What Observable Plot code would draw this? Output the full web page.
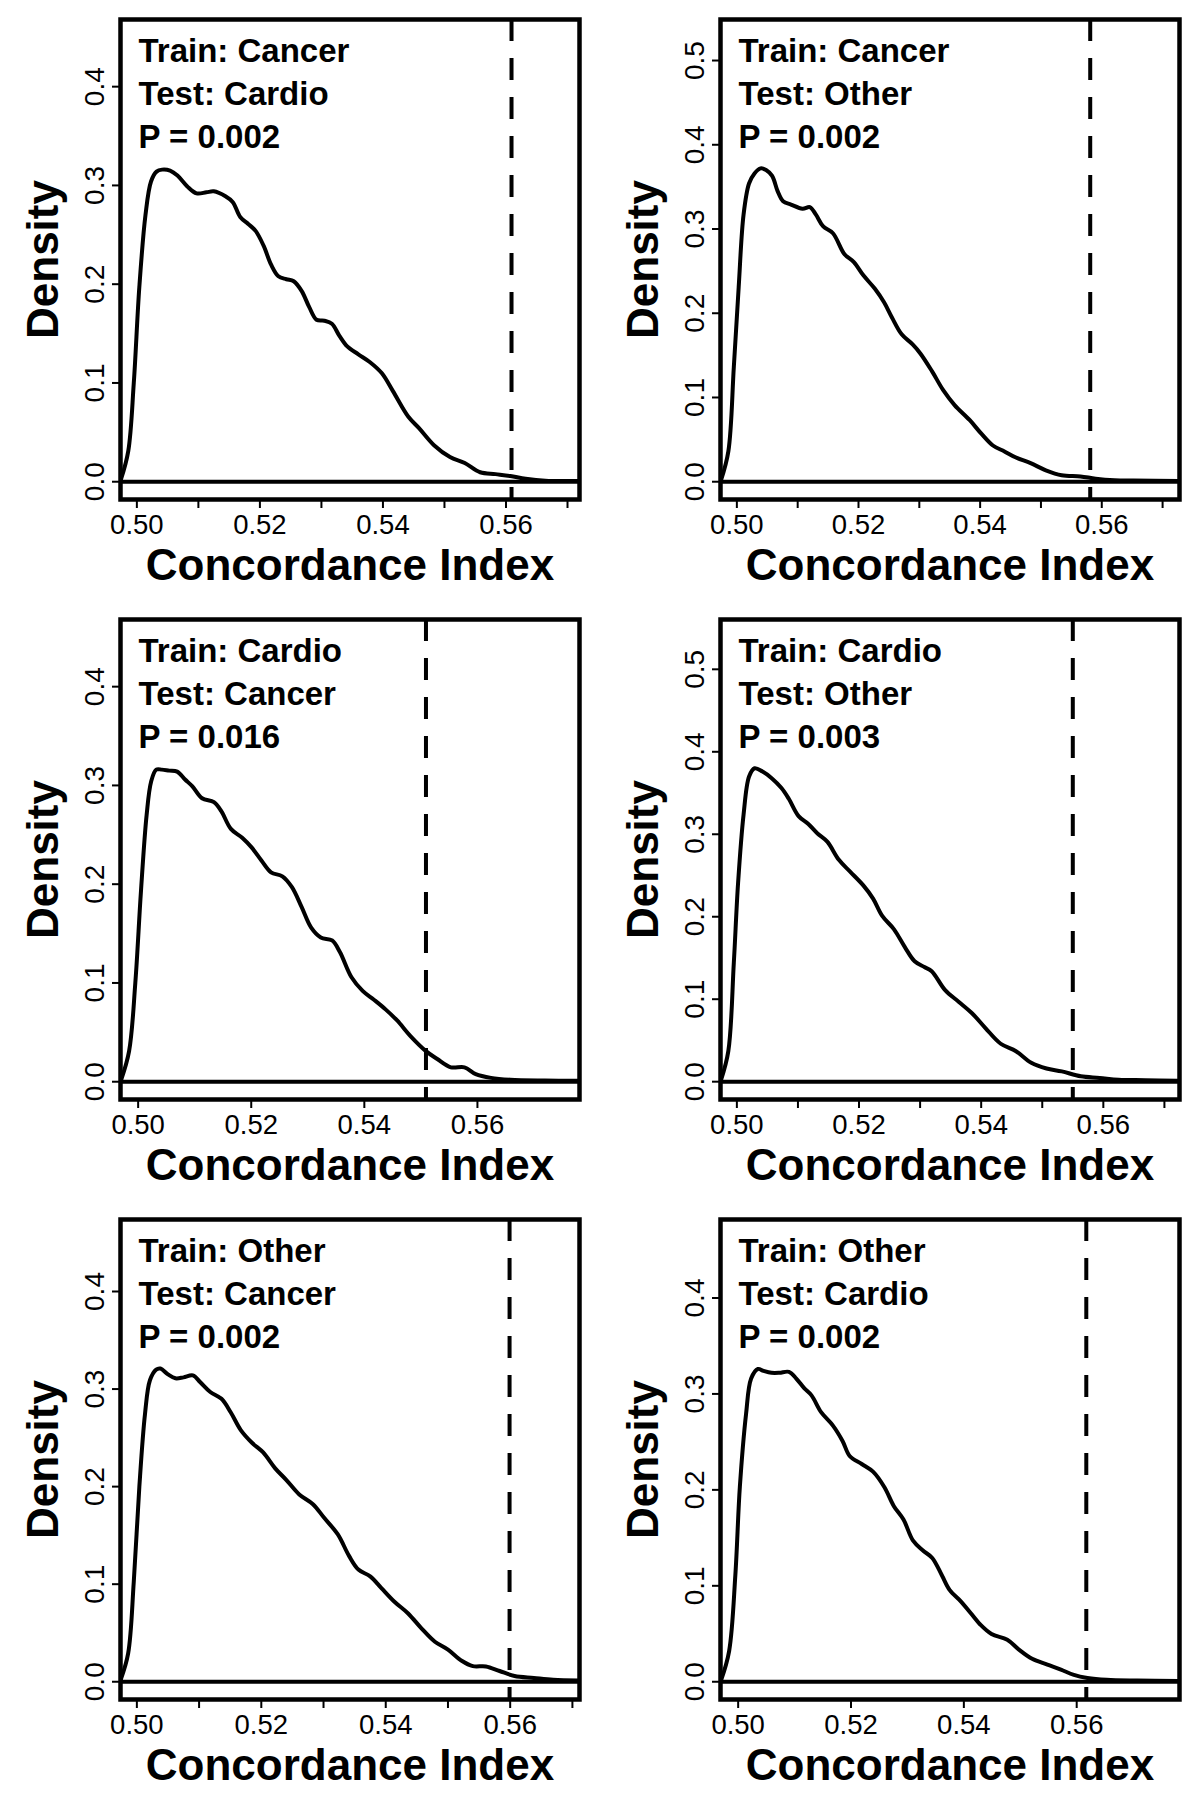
<!DOCTYPE html>
<html>
<head>
<meta charset="utf-8">
<script src="https://cdn.jsdelivr.net/npm/d3@7"></script>
<script src="https://cdn.jsdelivr.net/npm/@observablehq/plot@0.6"></script>
<style>
  html, body { margin: 0; padding: 0; background: #fff; }
  #grid { display: grid; grid-template-columns: 600px 600px; width: 1200px; }
  #grid svg { display: block; }
</style>
</head>
<body>
<div id="grid"></div>
<script>
// ---- data ----
const trainSets = ["Cancer", "Cancer", "Cardio", "Cardio", "Other", "Other"];
const testSets  = ["Cardio", "Other", "Cancer", "Other", "Cancer", "Cardio"];
const pValues   = ["0.002", "0.002", "0.016", "0.003", "0.002", "0.002"];
const observedCI = [0.5609, 0.5581, 0.5509, 0.5550, 0.5599, 0.5617];

const ci1 = [0.4974,0.4986,0.4995,0.5004,0.5014,0.5023,0.5032,0.5041,0.5054,0.5066,0.5082,0.5097,0.5113,0.5125,0.5144,0.5156,0.5168,0.5181,0.5193,0.5206,0.5218,0.5230,0.5243,0.5255,0.5268,0.5280,0.5292,0.5305,0.5317,0.5329,0.5342,0.5360,0.5379,0.5398,0.5416,0.5441,0.5459,0.5483,0.5509,0.5533,0.5558,0.5583,0.5607,0.5632,0.5664,0.5719];
const dens1 = [0.002,0.031,0.100,0.197,0.270,0.304,0.314,0.316,0.315,0.310,0.299,0.292,0.293,0.294,0.289,0.283,0.268,0.261,0.254,0.239,0.220,0.208,0.205,0.203,0.193,0.177,0.164,0.163,0.160,0.148,0.137,0.129,0.121,0.110,0.092,0.066,0.054,0.037,0.025,0.019,0.0096,0.0077,0.0058,0.003,0.001,0.0008];

const ci2 = [0.4974,0.4986,0.4995,0.5003,0.5011,0.5020,0.5029,0.5039,0.5048,0.5058,0.5067,0.5076,0.5089,0.5108,0.5120,0.5130,0.5142,0.5158,0.5177,0.5192,0.5208,0.5227,0.5242,0.5255,0.5271,0.5289,0.5302,0.5321,0.5339,0.5358,0.5383,0.5402,0.5421,0.5440,0.5458,0.5483,0.5508,0.5534,0.5565,0.5590,0.5621,0.5652,0.5727];
const dens2 = [0.002,0.036,0.136,0.231,0.317,0.354,0.366,0.372,0.370,0.363,0.345,0.333,0.329,0.324,0.326,0.317,0.303,0.295,0.270,0.261,0.245,0.229,0.213,0.195,0.175,0.163,0.152,0.131,0.109,0.091,0.073,0.057,0.043,0.036,0.029,0.022,0.0136,0.0077,0.0063,0.0036,0.0018,0.0014,0.001];

const ci3 = [0.4970,0.4984,0.4995,0.5005,0.5015,0.5023,0.5032,0.5042,0.5055,0.5069,0.5083,0.5096,0.5113,0.5134,0.5147,0.5164,0.5184,0.5201,0.5218,0.5235,0.5255,0.5272,0.5289,0.5306,0.5323,0.5343,0.5357,0.5377,0.5397,0.5417,0.5438,0.5458,0.5482,0.5509,0.5529,0.5553,0.5577,0.5597,0.5624,0.5658,0.5719,0.5780];
const dens3 = [0.002,0.031,0.100,0.193,0.270,0.304,0.316,0.316,0.315,0.314,0.306,0.299,0.287,0.283,0.274,0.256,0.247,0.237,0.224,0.212,0.208,0.197,0.177,0.156,0.146,0.143,0.131,0.106,0.092,0.083,0.073,0.062,0.046,0.031,0.023,0.0146,0.0146,0.0077,0.0039,0.002,0.0012,0.001];

const ci4 = [0.4974,0.4986,0.4995,0.5002,0.5011,0.5020,0.5029,0.5042,0.5057,0.5073,0.5085,0.5101,0.5117,0.5132,0.5148,0.5167,0.5185,0.5207,0.5223,0.5238,0.5257,0.5276,0.5291,0.5307,0.5319,0.5341,0.5363,0.5385,0.5407,0.5432,0.5457,0.5482,0.5507,0.5532,0.5563,0.5594,0.5625,0.5669,0.5722];
const dens4 = [0.002,0.037,0.144,0.241,0.324,0.370,0.380,0.376,0.368,0.356,0.343,0.322,0.3125,0.301,0.291,0.269,0.255,0.238,0.222,0.201,0.185,0.162,0.146,0.139,0.134,0.111,0.097,0.083,0.065,0.046,0.037,0.023,0.016,0.0125,0.0065,0.0046,0.0023,0.0018,0.001];

const ci5 = [0.4974,0.4986,0.4995,0.5004,0.5013,0.5021,0.5031,0.5038,0.5050,0.5062,0.5075,0.5090,0.5102,0.5118,0.5136,0.5151,0.5167,0.5185,0.5203,0.5222,0.5240,0.5261,0.5283,0.5301,0.5323,0.5341,0.5356,0.5375,0.5393,0.5414,0.5436,0.5457,0.5479,0.5500,0.5522,0.5540,0.5561,0.5583,0.5607,0.5638,0.5669,0.5710];
const dens5 = [0.002,0.029,0.102,0.200,0.274,0.309,0.320,0.321,0.315,0.311,0.312,0.314,0.307,0.297,0.290,0.276,0.258,0.245,0.235,0.219,0.207,0.192,0.182,0.168,0.151,0.129,0.115,0.108,0.096,0.082,0.070,0.055,0.041,0.033,0.0215,0.016,0.0157,0.011,0.0059,0.0039,0.002,0.0012];

const ci6 = [0.4970,0.4984,0.4995,0.5003,0.5014,0.5023,0.5035,0.5045,0.5059,0.5073,0.5090,0.5103,0.5117,0.5130,0.5147,0.5168,0.5185,0.5198,0.5219,0.5239,0.5259,0.5276,0.5293,0.5310,0.5327,0.5344,0.5361,0.5375,0.5395,0.5412,0.5429,0.5449,0.5477,0.5497,0.5521,0.5548,0.5572,0.5595,0.5619,0.5653,0.5707,0.5780];
const dens6 = [0.002,0.032,0.111,0.203,0.279,0.316,0.326,0.324,0.322,0.322,0.323,0.316,0.306,0.2985,0.281,0.267,0.251,0.235,0.227,0.219,0.203,0.183,0.169,0.147,0.137,0.129,0.111,0.0955,0.0836,0.0716,0.0597,0.0498,0.0438,0.0338,0.0239,0.0179,0.0127,0.0072,0.004,0.002,0.0012,0.0008];

const xTicksFine   = [0.50, 0.51, 0.52, 0.53, 0.54, 0.55, 0.56, 0.57];
const xTicksCoarse = [0.50, 0.52, 0.54, 0.56];
const yTicksLow    = [0.0, 0.1, 0.2, 0.3, 0.4];
const yTicksHigh   = [0.0, 0.1, 0.2, 0.3, 0.4, 0.5];
const xAxisTitle = "Concordance Index";
const yAxisTitle = "Density";

// ---- panel configuration ----
const panels = [
  {x: ci1, y: dens1, xDomain: [0.49734, 0.57195], yDomain: [-0.018, 0.468], xTicks: xTicksFine,   yTicks: yTicksLow},
  {x: ci2, y: dens2, xDomain: [0.49731, 0.57278], yDomain: [-0.0211, 0.5487], xTicks: xTicksFine, yTicks: yTicksHigh},
  {x: ci3, y: dens3, xDomain: [0.49688, 0.57805], yDomain: [-0.018, 0.468], xTicks: xTicksCoarse, yTicks: yTicksLow},
  {x: ci4, y: dens4, xDomain: [0.49732, 0.57247], yDomain: [-0.0216, 0.5604], xTicks: xTicksFine, yTicks: yTicksHigh},
  {x: ci5, y: dens5, xDomain: [0.49737, 0.57114], yDomain: [-0.0182, 0.4738], xTicks: xTicksFine, yTicks: yTicksLow},
  {x: ci6, y: dens6, xDomain: [0.49687, 0.57822], yDomain: [-0.0185, 0.4818], xTicks: xTicksCoarse, yTicks: yTicksLow}
];

const fmt2 = d3.format(".2f");
const fmt1 = d3.format(".1f");
const grid = document.getElementById("grid");

const W = 600, H = 600, ML = 120, MR = 21, MT = 19, MB = 101;
const TICK = 9;

panels.forEach((p, i) => {
  const rows = p.x.map((cx, j) => ({ci: cx, density: p.y[j]}));
  const note = `Train: ${trainSets[i]}\nTest: ${testSets[i]}\nP = ${pValues[i]}`;
  const labeled = p.xTicks.filter(d => Math.round(d * 100) % 2 === 0);
  const unlabeled = p.xTicks.filter(d => Math.round(d * 100) % 2 !== 0);
  const frameH = H - MT - MB;
  const svg = Plot.plot({
    width: W,
    height: H,
    marginLeft: ML,
    marginRight: MR,
    marginTop: MT,
    marginBottom: MB,
    style: {fontFamily: "'Liberation Sans', Arial, sans-serif", background: "#fff", color: "#000", overflow: "visible"},
    x: {domain: p.xDomain},
    y: {domain: p.yDomain},
    marks: [
      Plot.axisX({
        ticks: labeled,
        tickFormat: d => fmt2(d),
        tickSize: TICK,
        tickPadding: 6,
        strokeWidth: 2,
        fontSize: 27.5,
        label: null
      }),
      unlabeled.length ? Plot.tickX(unlabeled, {
        x: d => d,
        insetTop: frameH, insetBottom: -TICK,
        stroke: "#000", strokeWidth: 2
      }) : null,
      Plot.axisY({
        ticks: p.yTicks,
        tickFormat: d => fmt1(d),
        tickRotate: -90,
        tickSize: 8,
        tickPadding: 9,
        strokeWidth: 2,
        fontSize: 28,
        label: null
      }),
      Plot.ruleY([0], {stroke: "#000", strokeWidth: 4}),
      Plot.line(rows, {x: "ci", y: "density", curve: "catmull-rom", stroke: "#000", strokeWidth: 4, clip: true}),
      Plot.ruleX([observedCI[i]], {stroke: "#000", strokeWidth: 4, strokeDasharray: "22,17"}),
      Plot.text([note], {
        frameAnchor: "top-left", dx: 18, dy: 12, text: d => d,
        textAnchor: "start", lineAnchor: "top", lineHeight: 1.3,
        fontSize: 33, fontWeight: "bold", fill: "#000"
      }),
      Plot.text([xAxisTitle], {
        frameAnchor: "bottom", dy: 66, text: d => d, lineAnchor: "middle",
        fontSize: 44, fontWeight: "bold", fill: "#000"
      }),
      Plot.text([yAxisTitle], {
        frameAnchor: "left", dx: -77, text: d => d, rotate: -90,
        textAnchor: "middle", lineAnchor: "middle",
        fontSize: 44, fontWeight: "bold", fill: "#000"
      }),
      Plot.frame({stroke: "#000", strokeWidth: 4.5})
    ]
  });
  grid.appendChild(svg);
});
</script>
</body>
</html>
